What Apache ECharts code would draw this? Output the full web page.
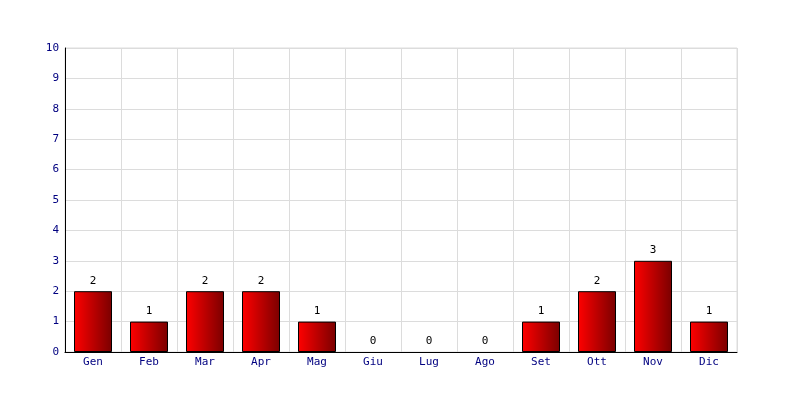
<!DOCTYPE html>
<html><head><meta charset="utf-8">
<script src="https://cdn.jsdelivr.net/npm/echarts@6/dist/echarts.min.js"></script>
<style>html,body{margin:0;padding:0;background:#fff}#c{width:800px;height:400px}</style>
</head><body><div id="c"></div>
<script>
var categories = ['Gen','Feb','Mar','Apr','Mag','Giu','Lug','Ago','Set','Ott','Nov','Dic'];
var values = [2,1,2,2,1,0,0,0,1,2,3,1];
var yTicks = [0,1,2,3,4,5,6,7,8,9,10];

var chart = echarts.init(document.getElementById('c'), null, {renderer:'canvas'});
var font = 'DejaVu Sans Mono';
var seriesData = values.map(function(v){
  return v === 0 ? {value:v, itemStyle:{borderWidth:0, opacity:0}, label:{show:true, opacity:1}} : v;
});
chart.setOption({
  animation:false,
  backgroundColor:'#fff',
  grid:{left:65,right:63,top:48,bottom:48,containLabel:false,show:true,borderColor:'#dcdcdc',borderWidth:1},
  xAxis:{type:'category',data:categories,boundaryGap:true,
    axisLine:{lineStyle:{color:'#000',width:1}},axisTick:{show:false},
    axisLabel:{color:'#000080',fontFamily:font,fontSize:11,margin:5},
    splitLine:{show:true,lineStyle:{color:'#dcdcdc',width:1}}},
  yAxis:{type:'value',min:yTicks[0],max:yTicks[yTicks.length-1],interval:1,
    axisLine:{show:true,lineStyle:{color:'#000',width:1}},axisTick:{show:false},
    axisLabel:{color:'#000080',fontFamily:font,fontSize:11,margin:6},
    splitLine:{show:true,lineStyle:{color:'#dcdcdc',width:1}}},
  series:[{type:'bar',data:seriesData,barWidth:38,
    itemStyle:{borderColor:'#000',borderWidth:1,
      color:new echarts.graphic.LinearGradient(0,0,1,0,[{offset:0,color:'#ff0000'},{offset:1,color:'#7a0000'}])},
    label:{show:true,position:'top',distance:5,color:'#000',fontFamily:font,fontSize:11}}]
});
</script></body></html>
